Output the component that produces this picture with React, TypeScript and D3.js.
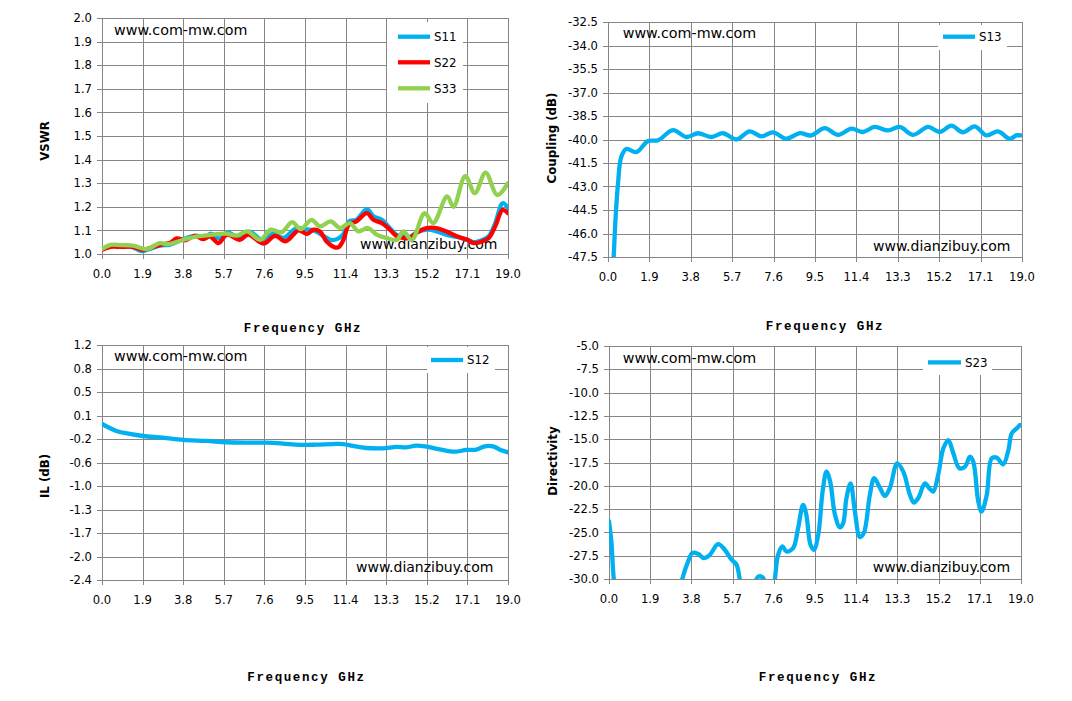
import React from "react";
import * as d3 from "d3";

type Pt = [number, number];

const X_TICKS = [0, 1.9, 3.8, 5.7, 7.6, 9.5, 11.4, 13.3, 15.2, 17.1, 19.0];
const X_TICK_LABELS = ["0.0", "1.9", "3.8", "5.7", "7.6", "9.5", "11.4", "13.3", "15.2", "17.1", "19.0"];

const VSWR_TICKS = [1.0, 1.1, 1.2, 1.3, 1.4, 1.5, 1.6, 1.7, 1.8, 1.9, 2.0];
const VSWR_TICK_LABELS = ["1.0", "1.1", "1.2", "1.3", "1.4", "1.5", "1.6", "1.7", "1.8", "1.9", "2.0"];

const COUPLING_TICKS = [-47.5, -46, -44.5, -43, -41.5, -40, -38.5, -37, -35.5, -34, -32.5];
const COUPLING_TICK_LABELS = ["-47.5", "-46.0", "-44.5", "-43.0", "-41.5", "-40.0", "-38.5", "-37.0", "-35.5", "-34.0", "-32.5"];

const IL_TICKS = [-2.4, -2.04, -1.68, -1.32, -0.96, -0.6, -0.24, 0.12, 0.48, 0.84, 1.2];
const IL_TICK_LABELS = ["-2.4", "-2.0", "-1.7", "-1.3", "-1.0", "-0.6", "-0.2", "0.1", "0.5", "0.8", "1.2"];

const DIR_TICKS = [-30, -27.5, -25, -22.5, -20, -17.5, -15, -12.5, -10, -7.5, -5];
const DIR_TICK_LABELS = ["-30.0", "-27.5", "-25.0", "-22.5", "-20.0", "-17.5", "-15.0", "-12.5", "-10.0", "-7.5", "-5.0"];

const S11: Pt[] = [
  [0, 1.02], [0.4, 1.035], [0.9, 1.037], [1.4, 1.03], [1.85, 1.012], [2.2, 1.02], [2.7, 1.035], [3.2, 1.04],
  [3.6, 1.055], [4.0, 1.07], [4.4, 1.078], [4.8, 1.07], [5.1, 1.086], [5.5, 1.065], [5.9, 1.09], [6.4, 1.07],
  [6.9, 1.095], [7.5, 1.06], [8.0, 1.085], [8.5, 1.068], [9.1, 1.11], [9.5, 1.105], [9.9, 1.1], [10.4, 1.075],
  [10.7, 1.06], [11.0, 1.063], [11.3, 1.085], [11.55, 1.138], [11.9, 1.145], [12.4, 1.19], [12.7, 1.16],
  [13.1, 1.145], [13.4, 1.117], [13.8, 1.08], [14.1, 1.077], [14.4, 1.073], [14.75, 1.092], [15.2, 1.103],
  [15.65, 1.096], [16.1, 1.082], [16.6, 1.072], [17.1, 1.06], [17.4, 1.05], [17.8, 1.06], [18.1, 1.075],
  [18.4, 1.13], [18.75, 1.215], [19.0, 1.195],
];

const S22: Pt[] = [
  [0, 1.018], [0.4, 1.03], [0.9, 1.03], [1.45, 1.03], [1.9, 1.018], [2.4, 1.03], [2.8, 1.04], [3.2, 1.048],
  [3.5, 1.066], [3.9, 1.058], [4.35, 1.077], [4.75, 1.063], [5.05, 1.075], [5.45, 1.046], [5.85, 1.082],
  [6.45, 1.06], [6.85, 1.082], [7.55, 1.044], [8.1, 1.077], [8.6, 1.054], [9.2, 1.1], [9.6, 1.085],
  [9.9, 1.103], [10.2, 1.095], [10.5, 1.054], [10.85, 1.03], [11.06, 1.028], [11.3, 1.06], [11.55, 1.124],
  [11.9, 1.138], [12.4, 1.173], [12.7, 1.145], [13.1, 1.131], [13.4, 1.11], [13.8, 1.075], [14.1, 1.068],
  [14.4, 1.068], [14.75, 1.092], [15.2, 1.11], [15.65, 1.11], [16.1, 1.096], [16.6, 1.075], [17.1, 1.06],
  [17.4, 1.046], [17.8, 1.054], [18.1, 1.068], [18.4, 1.117], [18.75, 1.187], [19.0, 1.173],
];

const S33: Pt[] = [
  [0, 1.021], [0.4, 1.039], [0.9, 1.038], [1.45, 1.035], [2.1, 1.021], [2.7, 1.046], [3.1, 1.042], [3.8, 1.06],
  [4.3, 1.072], [5.0, 1.08], [5.8, 1.086], [6.3, 1.078], [6.8, 1.096], [7.4, 1.06], [7.9, 1.103], [8.4, 1.092],
  [8.9, 1.135], [9.3, 1.105], [9.8, 1.145], [10.2, 1.117], [10.7, 1.138], [11.15, 1.11], [11.6, 1.131],
  [12.0, 1.096], [12.45, 1.11], [12.85, 1.082], [13.3, 1.068], [13.8, 1.06], [14.1, 1.096], [14.5, 1.06],
  [15.1, 1.173], [15.5, 1.131], [16.15, 1.244], [16.45, 1.2], [17.0, 1.33], [17.45, 1.258], [17.95, 1.345],
  [18.5, 1.25], [19.0, 1.3],
];

const S13: Pt[] = [
  [0.2, -49], [0.26, -47.5], [0.35, -44.95], [0.46, -42.8], [0.61, -41.1], [0.84, -40.6], [1.3, -40.8],
  [1.84, -40.1], [2.3, -40.05], [2.98, -39.4], [3.6, -39.84], [4.13, -39.6], [4.74, -39.84], [5.28, -39.6],
  [5.89, -40.0], [6.5, -39.48], [7.04, -39.8], [7.57, -39.54], [8.19, -39.95], [8.8, -39.6], [9.33, -39.74],
  [9.95, -39.27], [10.56, -39.7], [11.17, -39.31], [11.7, -39.52], [12.24, -39.2], [12.85, -39.42],
  [13.39, -39.2], [14.0, -39.7], [14.69, -39.2], [15.22, -39.52], [15.76, -39.12], [16.29, -39.54],
  [16.83, -39.16], [17.37, -39.74], [17.9, -39.48], [18.44, -39.95], [18.74, -39.74], [18.95, -39.74],
];

const S12: Pt[] = [
  [0.0, -0.01], [0.67, -0.117], [1.3, -0.163], [1.92, -0.194], [2.85, -0.22], [3.79, -0.255], [4.88, -0.27],
  [5.82, -0.29], [6.75, -0.296], [7.69, -0.296], [8.47, -0.31], [9.25, -0.33], [10.03, -0.327], [10.8, -0.317],
  [11.28, -0.317], [11.75, -0.347], [12.37, -0.378], [13.15, -0.383], [13.77, -0.362], [14.24, -0.367],
  [14.71, -0.342], [15.18, -0.357], [15.8, -0.398], [16.5, -0.434], [17.05, -0.408], [17.52, -0.403],
  [17.91, -0.352], [18.3, -0.352], [18.69, -0.414], [19.0, -0.444],
];

const S23: Pt[] = [
  [0.0, -23.8], [0.11, -26], [0.22, -30], [0.35, -32], [3.2, -32], [3.38, -30], [3.65, -28.1], [3.85, -27.2],
  [4.1, -27.3], [4.38, -27.75], [4.65, -27.4], [5.03, -26.25], [5.34, -26.86], [5.65, -27.93], [5.88, -28.46],
  [6.03, -30], [6.2, -31.5], [6.6, -31], [6.88, -29.75], [7.1, -29.85], [7.3, -31.5], [7.55, -31.5],
  [7.65, -30], [7.8, -27.4], [8.0, -26.5], [8.18, -27.04], [8.49, -26.68], [8.72, -24.54], [8.95, -22.05],
  [9.1, -23.1], [9.29, -26.32], [9.45, -26.86], [9.65, -25.26], [9.85, -20.62], [10.03, -18.48],
  [10.2, -19.55], [10.42, -23.1], [10.65, -24.47], [10.8, -24.0], [10.95, -21.33], [11.14, -19.73],
  [11.34, -22.76], [11.57, -25.5], [11.75, -25.08], [12.03, -20.98], [12.23, -19.19], [12.49, -20.19],
  [12.72, -21.08], [12.95, -20.26], [13.29, -17.59], [13.57, -18.48], [13.88, -20.98], [14.06, -21.8],
  [14.26, -21.33], [14.57, -19.73], [14.77, -20.26], [14.95, -20.62], [15.18, -18.84], [15.42, -15.98],
  [15.65, -15.09], [15.88, -16.52], [16.16, -18.12], [16.42, -17.94], [16.65, -16.87], [16.8, -17.41],
  [17.03, -21.69], [17.18, -22.76], [17.42, -20.98], [17.65, -17.05], [17.88, -16.98], [18.18, -17.7],
  [18.42, -16.16], [18.57, -14.38], [18.8, -13.84], [18.95, -13.49],
];

const BLUE = "#00B0F0";
const RED = "#FF0000";
const GREEN = "#92D050";
const GRID = "#868686";
const FONT = "'DejaVu Sans', Verdana, sans-serif";

type Series = { name: string; data: Pt[]; color: string };
type Box = { x0: number; x1: number; y0: number; y1: number };
type LegendCfg = { bx0: number; bx1: number; by0: number; by1: number; lx0: number; lx1: number; tx: number; ys: number[] };

interface PanelProps {
  id: string;
  box: Box;
  yDomain: [number, number];
  yTicks: number[];
  yTickLabels: string[];
  series: Series[];
  legend: LegendCfg;
  yTitle: string;
  yTitlePos: [number, number];
  xTitlePos: [number, number];
  wm1: [number, number];
  wm2: [number, number];
}

function Panel(p: PanelProps) {
  const { box } = p;
  const x = d3.scaleLinear().domain([0, 19]).range([box.x0, box.x1]);
  const y = d3.scaleLinear().domain(p.yDomain).range([box.y1, box.y0]);
  const line = d3
    .line<Pt>()
    .x((d) => x(d[0]))
    .y((d) => y(d[1]))
    .curve(d3.curveCatmullRom.alpha(0.5));
  const crisp = (v: number) => Math.round(v) + 0.5;
  return (
    <g>
      <defs>
        <clipPath id={`clip-${p.id}`}>
          <rect x={box.x0} y={box.y0 - 1} width={box.x1 - box.x0} height={box.y1 - box.y0 + 1} />
        </clipPath>
      </defs>
      {p.yTicks.map((t, i) => (
        <line key={`hy${i}`} x1={box.x0 - 5} x2={box.x1} y1={crisp(y(t))} y2={crisp(y(t))} stroke={GRID} strokeWidth={1} />
      ))}
      {X_TICKS.map((t, i) => (
        <line key={`vx${i}`} x1={crisp(x(t))} x2={crisp(x(t))} y1={box.y0} y2={box.y1 + 5} stroke={GRID} strokeWidth={1} />
      ))}
      {p.yTicks.map((t, i) => (
        <text key={`yl${i}`} x={box.x0 - 10} y={y(t)} dy="0.36em" textAnchor="end" fontFamily={FONT} fontSize={11.6} fill="#000">
          {p.yTickLabels[i]}
        </text>
      ))}
      {X_TICKS.map((t, i) => (
        <text key={`xl${i}`} x={x(t)} y={box.y1 + 24} textAnchor="middle" fontFamily={FONT} fontSize={11.6} fill="#000">
          {X_TICK_LABELS[i]}
        </text>
      ))}
      <text x={p.wm1[0]} y={p.wm1[1]} dy="0.36em" fontFamily={FONT} fontSize={14.3} fill="#000">
        www.com-mw.com
      </text>
      <text x={p.wm2[0]} y={p.wm2[1]} dy="0.36em" fontFamily={FONT} fontSize={14} fill="#000">
        www.dianzibuy.com
      </text>
      <g clipPath={`url(#clip-${p.id})`}>
        {p.series.map((s) => (
          <path key={s.name} d={line(s.data) ?? ""} fill="none" stroke={s.color} strokeWidth={4.3} strokeLinejoin="round" strokeLinecap="round" />
        ))}
      </g>
      <rect x={p.legend.bx0} y={p.legend.by0} width={p.legend.bx1 - p.legend.bx0} height={p.legend.by1 - p.legend.by0} fill="#fff" />
      {p.series.map((s, i) => (
        <g key={`lg${i}`}>
          <line x1={p.legend.lx0} x2={p.legend.lx1} y1={p.legend.ys[i]} y2={p.legend.ys[i]} stroke={s.color} strokeWidth={4.3} />
          <text x={p.legend.tx} y={p.legend.ys[i]} dy="0.36em" fontFamily={FONT} fontSize={11.8} fill="#000">
            {s.name}
          </text>
        </g>
      ))}
      <text
        transform={`translate(${p.yTitlePos[0]},${p.yTitlePos[1]}) rotate(-90)`}
        textAnchor="middle"
        dy="0.36em"
        fontFamily={FONT}
        fontWeight="bold"
        fontSize={11.8}
        fill="#000"
      >
        {p.yTitle}
      </text>
      <text
        x={p.xTitlePos[0]}
        y={p.xTitlePos[1]}
        dy="0.36em"
        textAnchor="middle"
        fontFamily="'Liberation Mono', 'DejaVu Sans Mono', monospace"
        fontWeight="bold"
        fontSize={12.5}
        letterSpacing={1.6}
        fill="#000"
      >
        Frequency GHz
      </text>
    </g>
  );
}

export default function App() {
  return (
    <svg width={1072} height={701} style={{ position: "absolute", left: 0, top: 0, background: "#fff" }}>
      <rect x={0} y={0} width={1072} height={701} fill="#fff" />
      <Panel
        id="tl"
        box={{ x0: 102, x1: 508, y0: 18, y1: 254 }}
        yDomain={[1.0, 2.0]}
        yTicks={VSWR_TICKS}
        yTickLabels={VSWR_TICK_LABELS}
        series={[
          { name: "S11", data: S11, color: BLUE },
          { name: "S22", data: S22, color: RED },
          { name: "S33", data: S33, color: GREEN },
        ]}
        legend={{ bx0: 387, bx1: 463, by0: 22, by1: 103, lx0: 398, lx1: 430, tx: 434, ys: [36.7, 62.3, 88.3] }}
        yTitle="VSWR"
        yTitlePos={[45, 141]}
        xTitlePos={[303, 327]}
        wm1={[114, 30]}
        wm2={[360, 244]}
      />
      <Panel
        id="tr"
        box={{ x0: 608, x1: 1022, y0: 22, y1: 257 }}
        yDomain={[-47.5, -32.5]}
        yTicks={COUPLING_TICKS}
        yTickLabels={COUPLING_TICK_LABELS}
        series={[{ name: "S13", data: S13, color: BLUE }]}
        legend={{ bx0: 938, bx1: 1007, by0: 25, by1: 50, lx0: 943, lx1: 975, tx: 979, ys: [36.7] }}
        yTitle="Coupling (dB)"
        yTitlePos={[552, 138]}
        xTitlePos={[825, 325]}
        wm1={[622.7, 33.3]}
        wm2={[873, 246]}
      />
      <Panel
        id="bl"
        box={{ x0: 102, x1: 508, y0: 345, y1: 580 }}
        yDomain={[-2.4, 1.2]}
        yTicks={IL_TICKS}
        yTickLabels={IL_TICK_LABELS}
        series={[{ name: "S12", data: S12, color: BLUE }]}
        legend={{ bx0: 427, bx1: 495, by0: 347, by1: 373, lx0: 431, lx1: 463, tx: 467, ys: [360] }}
        yTitle="IL (dB)"
        yTitlePos={[45, 476]}
        xTitlePos={[306.5, 676]}
        wm1={[114, 355.7]}
        wm2={[356, 566.7]}
      />
      <Panel
        id="br"
        box={{ x0: 609, x1: 1021, y0: 346, y1: 579 }}
        yDomain={[-30, -5]}
        yTicks={DIR_TICKS}
        yTickLabels={DIR_TICK_LABELS}
        series={[{ name: "S23", data: S23, color: BLUE }]}
        legend={{ bx0: 923, bx1: 992, by0: 347, by1: 375, lx0: 928, lx1: 961, tx: 965, ys: [362.3] }}
        yTitle="Directivity"
        yTitlePos={[553, 461]}
        xTitlePos={[818, 676]}
        wm1={[622.7, 357.7]}
        wm2={[872.7, 567.3]}
      />
    </svg>
  );
}
